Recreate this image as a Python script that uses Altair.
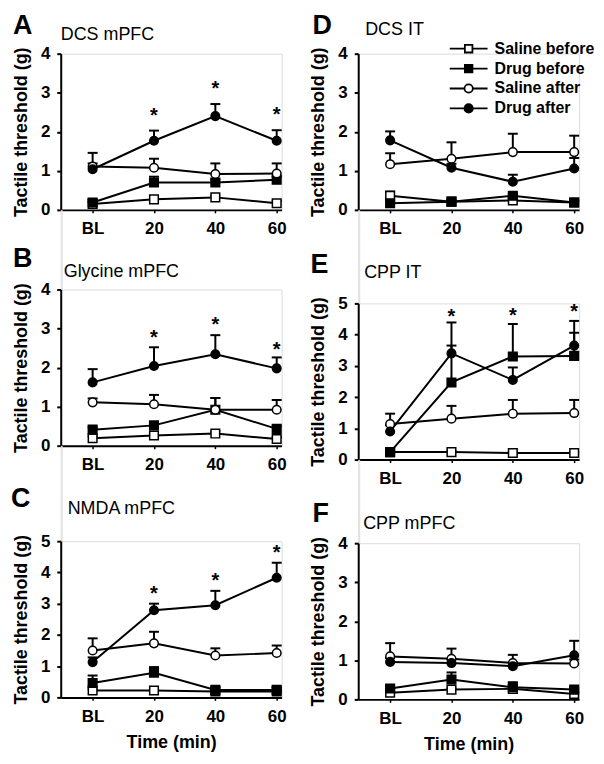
import altair as alt
import pandas as pd

FONT = "Liberation Sans"

times = [0, 1, 2, 3]
time_labels = ["BL", "20", "40", "60"]
series = ["Saline before", "Drug before", "Saline after", "Drug after"]

# ---- Panel A: DCS mPFC ----
A_saline_before = [0.15, 0.27, 0.32, 0.17]
A_saline_before_err = [0.05, 0.05, 0.05, 0.05]
A_drug_before = [0.19, 0.70, 0.70, 0.77]
A_drug_before_err = [0.08, 0.15, 0.08, 0.08]
A_saline_after = [1.11, 1.08, 0.92, 0.93]
A_saline_after_err = [0.35, 0.23, 0.27, 0.26]
A_drug_after = [1.04, 1.77, 2.40, 1.77]
A_drug_after_err = [0.15, 0.26, 0.31, 0.27]
A_stars = [None, 2.52, 3.23, 2.56]

# ---- Panel B: Glycine mPFC ----
B_saline_before = [0.19, 0.26, 0.31, 0.17]
B_saline_before_err = [0.05, 0.05, 0.05, 0.05]
B_drug_before = [0.41, 0.52, 0.92, 0.43]
B_drug_before_err = [0.06, 0.06, 0.30, 0.06]
B_saline_after = [1.11, 1.06, 0.92, 0.92]
B_saline_after_err = [0.10, 0.24, 0.30, 0.25]
B_drug_after = [1.62, 2.04, 2.34, 1.98]
B_drug_after_err = [0.34, 0.48, 0.49, 0.28]
B_stars = [None, 2.88, 3.22, 2.58]

# ---- Panel C: NMDA mPFC ----
C_saline_before = [0.22, 0.22, 0.19, 0.19]
C_saline_before_err = [0.04, 0.04, 0.04, 0.04]
C_drug_before = [0.46, 0.79, 0.24, 0.24]
C_drug_before_err = [0.24, 0.18, 0.09, 0.09]
C_saline_after = [1.50, 1.73, 1.34, 1.42]
C_saline_after_err = [0.39, 0.37, 0.23, 0.24]
C_drug_after = [1.13, 2.79, 2.95, 3.83]
C_drug_after_err = [0.15, 0.21, 0.46, 0.48]
C_stars = [None, 3.46, 3.89, 4.79]

# ---- Panel D: DCS IT ----
D_saline_before = [0.36, 0.21, 0.24, 0.19]
D_saline_before_err = [0.11, 0.03, 0.05, 0.03]
D_drug_before = [0.17, 0.21, 0.36, 0.19]
D_drug_before_err = [0.05, 0.03, 0.05, 0.03]
D_saline_after = [1.17, 1.31, 1.48, 1.48]
D_saline_after_err = [0.28, 0.42, 0.47, 0.42]
D_drug_after = [1.78, 1.08, 0.72, 1.06]
D_drug_after_err = [0.23, 0.10, 0.18, 0.27]
D_stars = [None, None, None, None]

# ---- Panel E: CPP IT ----
E_saline_before = [0.24, 0.24, 0.21, 0.21]
E_saline_before_err = [0.03, 0.03, 0.03, 0.03]
E_drug_before = [0.24, 2.47, 3.30, 3.32]
E_drug_before_err = [0.03, 1.18, 1.04, 0.74]
E_saline_after = [1.14, 1.31, 1.47, 1.49]
E_saline_after_err = [0.33, 0.41, 0.44, 0.42]
E_drug_after = [0.90, 3.40, 2.55, 3.65]
E_drug_after_err = [0.20, 0.99, 0.40, 0.79]
E_stars = [None, 4.73, 4.76, 4.87]

# ---- Panel F: CPP mPFC ----
F_saline_before = [0.17, 0.25, 0.27, 0.14]
F_saline_before_err = [0.03, 0.03, 0.03, 0.03]
F_drug_before = [0.28, 0.51, 0.31, 0.25]
F_drug_before_err = [0.06, 0.18, 0.13, 0.05]
F_saline_after = [1.10, 1.04, 0.93, 0.92]
F_saline_after_err = [0.34, 0.26, 0.21, 0.10]
F_drug_after = [0.96, 0.93, 0.85, 1.13]
F_drug_after_err = [0.10, 0.10, 0.10, 0.37]
F_stars = [None, None, None, None]


def long_df(vals, errs):
    rows = []
    for s, v, e in zip(series, vals, errs):
        for t, m, er in zip(times, v, e):
            rows.append({"t": t, "series": s, "mean": m, "top": round(m + er, 3)})
    return pd.DataFrame(rows)


def star_df(stars):
    return pd.DataFrame([{"t": t, "star": s} for t, s in zip(times, stars) if s is not None])


SQ = "M-1.9,0H-0.38M0.38,0H1.9M-0.38,-0.38H0.38V0.38H-0.38Z"
CI = ("M-1.9,0H-0.42M0.42,0H1.9M-0.42,0A0.42,0.42,0,1,0,0.42,0"
      "A0.42,0.42,0,1,0,-0.42,0Z")

W, H = 222, 157


def panel(letter, name, df, stars, ymax, xtitle, letter_pos, name_pos, legend=False):
    x_axis = alt.Axis(values=times, labelExpr="['BL','20','40','60'][datum.value]",
                      grid=False, tickSize=3, tickWidth=1.5, tickColor="black",
                      domainColor="black", domainWidth=2, labelFont=FONT,
                      labelFontSize=17, labelFontWeight="bold", labelColor="black",
                      labelPadding=8, titleFont=FONT, titleFontSize=18,
                      titleFontWeight="bold", titleColor="black", titlePadding=9)
    y_axis = alt.Axis(values=list(range(ymax + 1)), format="d", grid=False,
                      tickSize=4, tickWidth=2, tickColor="black",
                      domainColor="black", domainWidth=2, labelFont=FONT,
                      labelFontSize=17, labelFontWeight="bold", labelColor="black",
                      labelPadding=7, titleFont=FONT, titleFontSize=18,
                      titleFontWeight="bold", titleColor="black", titlePadding=10)
    xs = alt.Scale(domain=[-0.52, 3.08], nice=False, zero=False)
    ys = alt.Scale(domain=[0, ymax], nice=False)

    def X(field="t"):
        return alt.X(f"{field}:Q", scale=xs, axis=x_axis, title=xtitle)

    def Y(field):
        return alt.Y(f"{field}:Q", scale=ys, axis=y_axis, title="Tactile threshold (g)")

    base = alt.Chart(df)
    lines = base.mark_line(color="black", strokeWidth=2).encode(
        x=X(), y=Y("mean"), detail="series:N")
    err = base.mark_rule(color="black", strokeWidth=2).encode(
        x=X(), y=Y("mean"), y2="top:Q")
    cap = base.mark_rule(color="black", strokeWidth=2, xOffset=-5, x2Offset=5).encode(
        x=X(), x2="t:Q", y=Y("top"))
    pts = base.mark_point(filled=True, stroke="black", strokeWidth=1.5, size=75,
                          opacity=1).encode(
        x=X(), y=Y("mean"),
        shape=alt.Shape("series:N", scale=alt.Scale(domain=series,
                        range=["square", "square", "circle", "circle"]), legend=None),
        fill=alt.Fill("series:N", scale=alt.Scale(domain=series,
                      range=["white", "black", "white", "black"]), legend=None))
    layers = [lines, err, cap, pts]

    sdf = star_df(stars)
    if len(sdf):
        layers.append(alt.Chart(sdf).mark_text(
            text="*", font=FONT, fontSize=20, fontWeight="bold", color="black",
            baseline="middle", dy=5).encode(x=X(), y=Y("star")))

    lab = pd.DataFrame({"letter": [letter], "name": [name]})
    layers.append(alt.Chart(lab).mark_text(
        font=FONT, fontSize=27, fontWeight="bold", color="black", align="left",
        baseline="alphabetic").encode(
        text="letter:N", x=alt.value(letter_pos[0]), y=alt.value(letter_pos[1])))
    layers.append(alt.Chart(lab).mark_text(
        font=FONT, fontSize=18, color="black", align="left",
        baseline="alphabetic").encode(
        text="name:N", x=alt.value(name_pos[0]), y=alt.value(name_pos[1])))

    if legend:
        leg = alt.Legend(orient="none", legendX=100, legendY=-16, title=None,
                         labelFont=FONT, labelFontSize=16, labelFontWeight="bold",
                         labelColor="black", symbolSize=400, symbolStrokeWidth=1.8,
                         rowPadding=1, padding=0, labelOffset=15)
        layers.append(alt.Chart(df).transform_filter("false").mark_point(
            filled=True, strokeWidth=1.8, opacity=1).encode(
            shape=alt.Shape("series:N", scale=alt.Scale(domain=series,
                            range=[SQ, SQ, CI, CI]), legend=leg),
            fill=alt.Fill("series:N", scale=alt.Scale(domain=series,
                          range=["white", "black", "white", "black"]), legend=leg),
            stroke=alt.Stroke("series:N", scale=alt.Scale(domain=series,
                              range=["black", "black", "black", "black"]), legend=leg)))

    ch = alt.layer(*layers).properties(width=W, height=H)
    if legend:
        ch = ch.resolve_scale(shape="independent", fill="independent",
                              stroke="independent")
    return ch


def spacer(h):
    return alt.Chart(pd.DataFrame({"v": [0]})).mark_point(opacity=0).encode(
        x=alt.value(0), y=alt.value(0)).properties(width=1, height=h)


A = panel("A", "DCS mPFC",
          long_df([A_saline_before, A_drug_before, A_saline_after, A_drug_after],
                  [A_saline_before_err, A_drug_before_err, A_saline_after_err, A_drug_after_err]),
          A_stars, 4, None, (-48, -20), (0, -14))
B = panel("B", "Glycine mPFC",
          long_df([B_saline_before, B_drug_before, B_saline_after, B_drug_after],
                  [B_saline_before_err, B_drug_before_err, B_saline_after_err, B_drug_after_err]),
          B_stars, 4, None, (-48, -23), (3, -13))
C = panel("C", "NMDA mPFC",
          long_df([C_saline_before, C_drug_before, C_saline_after, C_drug_after],
                  [C_saline_before_err, C_drug_before_err, C_saline_after_err, C_drug_after_err]),
          C_stars, 5, "Time (min)", (-50, -34), (7, -27))
D = panel("D", "DCS IT",
          long_df([D_saline_before, D_drug_before, D_saline_after, D_drug_after],
                  [D_saline_before_err, D_drug_before_err, D_saline_after_err, D_drug_after_err]),
          D_stars, 4, None, (-46, -20), (7, -19), legend=True)
E = panel("E", "CPP IT",
          long_df([E_saline_before, E_drug_before, E_saline_after, E_drug_after],
                  [E_saline_before_err, E_drug_before_err, E_saline_after_err, E_drug_after_err]),
          E_stars, 5, None, (-48, -31), (6, -26))
F = panel("F", "CPP mPFC",
          long_df([F_saline_before, F_drug_before, F_saline_after, F_drug_after],
                  [F_saline_before_err, F_drug_before_err, F_saline_after_err, F_drug_after_err]),
          F_stars, 4, "Time (min)", (-46, -21), (5, -14))

left = alt.vconcat(A, spacer(80), B, spacer(96), C, spacing=0, bounds="flush")
right = alt.vconcat(D, spacer(94), E, spacer(84), F, spacing=0, bounds="flush")

chart = alt.hconcat(left, right, spacing=22).properties(
    padding={"left": 2, "top": 1, "right": 0, "bottom": 0}
).configure_view(stroke=None).configure(font=FONT)

chart.save("out.html", embed_options={"renderer": "svg", "actions": False})
